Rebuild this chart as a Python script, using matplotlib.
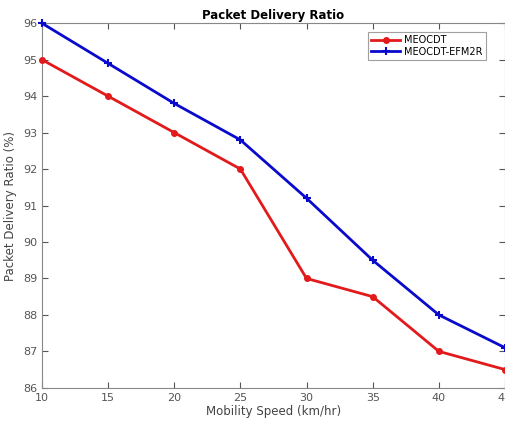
import numpy as np
import matplotlib.pyplot as plt

speed = [10, 15, 20, 25, 30, 35, 40, 45]
meocdt = [95, 94, 93, 92, 89, 88.5, 87, 86.5]
efm2r = [96, 94.9, 93.8, 92.8, 91.2, 89.5, 88, 87.1]

fig = plt.figure(figsize=(5.05, 4.22), dpi=100)
ax = fig.add_axes([0.083, 0.081, 0.917, 0.864])

ax.plot(speed, meocdt, '-o', color='#e31a1c', lw=2, ms=4, label='MEOCDT', clip_on=False, zorder=3)
ax.plot(speed, efm2r, '-+', color='#0a0acd', lw=2, ms=6, mew=1.5, label='MEOCDT-EFM2R', clip_on=False, zorder=3)

ax.set_xlim(10, 45)
ax.set_ylim(86, 96)
ax.set_xticks(speed)
ax.set_yticks(np.arange(86, 97, 1))
ax.tick_params(direction='in', top=True, right=True, labelsize=8, colors='#555555', length=4)
for s in ax.spines.values():
    s.set_color('#888888')
    s.set_linewidth(0.8)

ax.set_title('Packet Delivery Ratio', fontsize=8.5, fontweight='bold', pad=3)
ax.set_xlabel('Mobility Speed (km/hr)', fontsize=8.5, color='#444444', labelpad=2)
ax.set_ylabel('Packet Delivery Ratio (%)', fontsize=8.5, color='#444444', labelpad=4)

leg = ax.legend(loc='upper right', bbox_to_anchor=(0.97, 0.99), fontsize=7, frameon=True,
                fancybox=False, edgecolor='#888888', handlelength=3, borderpad=0.35,
                labelspacing=0.15, handletextpad=0.4)
leg.get_frame().set_linewidth(0.8)

fig.savefig('out.png', dpi=100)
